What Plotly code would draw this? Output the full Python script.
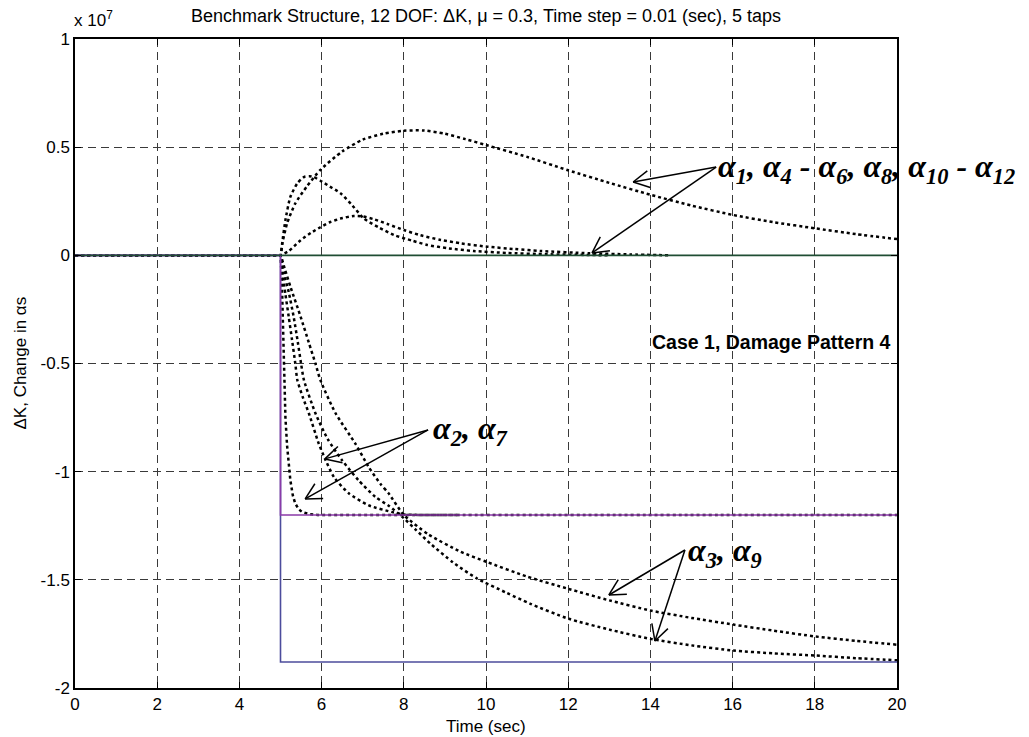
import math
import plotly.graph_objects as go

# Values are in units of 1e7 (the axis carries a "x 10^7" multiplier)
time_ticks = [0, 2, 4, 6, 8, 10, 12, 14, 16, 18, 20]
dk_ticks = [-2, -1.5, -1, -0.5, 0, 0.5, 1]
dk_tick_text = ["-2", "-1.5", "-1", "-0.5", "0", "0.5", "1"]

# True (target) changes in the alphas
true_t = [0, 5, 5, 20]
true_zero = [0, 0, 0, 0]            # alpha1, alpha4-6, alpha8, alpha10-12
true_a2_a7 = [0, 0, -1.2, -1.2]     # alpha2, alpha7
true_a3_a9 = [0, 0, -1.88, -1.88]   # alpha3, alpha9

# Estimated alphas that should stay at zero
est1_t = [0, 4.98, 5.0, 5.05, 5.16, 5.36, 5.64, 5.97, 6.5, 7.0, 7.5, 8.0, 8.5, 9.0, 9.5,
          10.0, 11.0, 12.0, 13.0, 14.0, 15.0, 16.0, 17.0, 18.0, 19.0, 20.0]
est1_v = [0, 0, 0, 0.06, 0.148, 0.24, 0.318, 0.395, 0.48, 0.535, 0.562, 0.576, 0.577,
          0.562, 0.537, 0.51, 0.455, 0.393, 0.335, 0.28, 0.23, 0.187, 0.153, 0.125,
          0.098, 0.075]

est2_t = [0, 4.98, 5.0, 5.04, 5.12, 5.24, 5.41, 5.57, 5.7, 5.81, 5.97, 6.2, 6.46, 6.75,
          7.03, 7.4, 7.76, 8.2, 8.57, 9.1, 9.7, 10.5, 11.5, 13.0]
est2_v = [0, 0, 0, 0.055, 0.163, 0.27, 0.333, 0.362, 0.366, 0.362, 0.345, 0.318, 0.287,
          0.23, 0.17, 0.128, 0.094, 0.068, 0.048, 0.032, 0.02, 0.011, 0.005, 0.0]

est3_t = [0, 4.98, 5.0, 5.2, 5.49, 5.75, 5.97, 6.2, 6.46, 6.78, 7.0, 7.27, 7.6, 8.0, 8.4,
          8.9, 9.4, 10.03, 10.7, 11.33, 12.5, 13.5, 14.5]
est3_v = [0, 0, 0, 0.02, 0.07, 0.105, 0.13, 0.153, 0.17, 0.182, 0.18, 0.167, 0.145,
          0.117, 0.093, 0.071, 0.055, 0.04, 0.029, 0.02, 0.01, 0.004, 0]

# Estimated alpha2 / alpha7
est4_t = [0, 5.0, 5.03, 5.06, 5.08, 5.12, 5.16, 5.2, 5.24, 5.3, 5.36, 5.45, 5.53, 5.7,
          5.9, 7.0, 9.3]
est4_v = [0, 0, -0.1, -0.3, -0.55, -0.75, -0.88, -0.97, -1.04, -1.11, -1.148, -1.175,
          -1.187, -1.196, -1.2, -1.2, -1.2]

est5_t = [0, 4.98, 5.0, 5.05, 5.12, 5.2, 5.28, 5.36, 5.41, 5.55, 5.69, 5.93, 6.1, 6.3,
          6.66, 7.15, 7.72, 8.0, 9.0, 20.0]
est5_v = [0, 0, 0, -0.08, -0.18, -0.284, -0.39, -0.5, -0.577, -0.66, -0.73, -0.87,
          -0.948, -1.025, -1.10, -1.156, -1.187, -1.198, -1.2, -1.2]

# Estimated alpha3 / alpha9
est6_t = [0, 4.98, 5.0, 5.08, 5.2, 5.32, 5.42, 5.5, 5.57, 5.85, 6.15, 6.5, 6.9, 7.31,
          7.65, 8.0, 8.3, 8.65, 9.2, 9.79, 10.5, 11.08, 12.01, 13.0, 14.0, 15.0, 16.02,
          17.0, 18.02, 19.0, 20.0]
est6_v = [0, 0, 0, -0.08, -0.17, -0.284, -0.4, -0.5, -0.577, -0.73, -0.85, -0.948,
          -1.04, -1.117, -1.16, -1.215, -1.27, -1.333, -1.42, -1.495, -1.56, -1.611,
          -1.68, -1.73, -1.773, -1.803, -1.827, -1.84, -1.85, -1.862, -1.872]

est7_t = [0, 4.98, 5.0, 5.1, 5.25, 5.49, 5.7, 5.85, 5.97, 6.34, 6.82, 7.15, 7.43, 7.63,
          8.0, 8.6, 9.38, 10.03, 11.0, 12.01, 13.0, 14.0, 15.0, 16.02, 17.0, 18.02, 19.0,
          20.0]
est7_v = [0, 0, 0, -0.06, -0.15, -0.284, -0.41, -0.5, -0.577, -0.73, -0.87, -0.98,
          -1.056, -1.10, -1.2, -1.29, -1.37, -1.418, -1.485, -1.542, -1.595, -1.642,
          -1.676, -1.707, -1.735, -1.762, -1.782, -1.80]

GREEN = "#1f4d33"
PURPLE = "#8a3aa8"
BLUE = "#4c4c9c"
FONT = "Arial, Liberation Sans, sans-serif"
SERIF = "Times New Roman, Liberation Serif, serif"

W, H = 1029, 737
ML, MR, MT, MB = 75, 132, 39, 49
X_RANGE = [0, 20]
Y_RANGE = [-2, 1]
XS = (W - ML - MR) / (X_RANGE[1] - X_RANGE[0])   # px per second
YS = (H - MT - MB) / (Y_RANGE[1] - Y_RANGE[0])   # px per 1e7

fig = go.Figure()

estimates = [(est1_t, est1_v, "spline"), (est2_t, est2_v, "spline"),
             (est3_t, est3_v, "spline"), (est4_t, est4_v, "linear"),
             (est5_t, est5_v, "spline"), (est6_t, est6_v, "spline"),
             (est7_t, est7_v, "spline")]
for tt, vv, shape in estimates:
    line = dict(color="black", width=2.5, dash="dot", shape=shape)
    if shape == "spline":
        line["smoothing"] = 0.6
    fig.add_trace(go.Scatter(x=tt, y=vv, mode="lines", line=line,
                             showlegend=False, hoverinfo="skip"))

for vals, col in [(true_a3_a9, BLUE), (true_a2_a7, PURPLE), (true_zero, GREEN)]:
    fig.add_trace(go.Scatter(x=true_t, y=vals, mode="lines",
                             line=dict(color=col, width=1.6),
                             showlegend=False, hoverinfo="skip"))

# Open "V" arrows from the labels to the curves
shapes = []
ARM = 18
HALF = math.radians(28)


def arrow(tail, head):
    x0, y0 = tail
    x1, y1 = head
    shapes.append(dict(type="line", xref="x", yref="y", x0=x0, y0=y0, x1=x1, y1=y1,
                       line=dict(color="black", width=1.5)))
    ang = math.atan2((y0 - y1) * YS, (x0 - x1) * XS)
    for s in (1, -1):
        a = ang + s * HALF
        shapes.append(dict(type="line", xref="x", yref="y", x0=x1, y0=y1,
                           x1=x1 + ARM * math.cos(a) / XS,
                           y1=y1 + ARM * math.sin(a) / YS,
                           line=dict(color="black", width=1.5)))


arrow((15.60, 0.408), (13.58, 0.339))
arrow((15.60, 0.408), (12.58, 0.011))
arrow((8.59, -0.807), (6.08, -0.941))
arrow((8.59, -0.807), (5.60, -1.126))
arrow((14.84, -1.362), (12.99, -1.570))
arrow((14.84, -1.362), (14.11, -1.783))

label_font = dict(family=SERIF, size=32, color="black")
annotations = [
    dict(x=15.60, y=0.40, xref="x", yref="y", xanchor="left", yanchor="middle",
         showarrow=False, font=label_font,
         text="<b><i>α<sub>1</sub>, α<sub>4</sub> - α<sub>6</sub>, α<sub>8</sub>, "
              "α<sub>10</sub> - α<sub>12</sub></i></b>"),
    dict(x=8.66, y=-0.81, xref="x", yref="y", xanchor="left", yanchor="middle",
         showarrow=False, font=label_font,
         text="<b><i>α<sub>2</sub>, α<sub>7</sub></i></b>"),
    dict(x=14.86, y=-1.375, xref="x", yref="y", xanchor="left", yanchor="middle",
         showarrow=False, font=label_font,
         text="<b><i>α<sub>3</sub>, α<sub>9</sub></i></b>"),
    dict(x=14.0, y=-0.40, xref="x", yref="y", xanchor="left", yanchor="middle",
         showarrow=False, font=dict(family=FONT, size=19.5, color="black"),
         text="<b>Case 1, Damage Pattern 4</b>"),
    dict(x=0, y=1, xref="paper", yref="paper", xanchor="left", yanchor="middle",
         xshift=-3, yshift=20, showarrow=False,
         font=dict(family=FONT, size=17, color="black"), text="x 10<sup>7</sup>"),
    dict(x=0, y=0.5, xref="paper", yref="paper", xanchor="center", yanchor="middle",
         xshift=-55, showarrow=False, textangle=-90,
         font=dict(family=FONT, size=17, color="black"), text="ΔK, Change in αs"),
    dict(x=0.5, y=0, xref="paper", yref="paper", xanchor="center", yanchor="middle",
         yshift=-38, showarrow=False,
         font=dict(family=FONT, size=17, color="black"), text="Time (sec)"),
]

axis_common = dict(showline=True, linecolor="black", linewidth=1.5, mirror="ticks",
                   ticks="inside", ticklen=6, tickcolor="black", tickwidth=1,
                   showgrid=True, gridcolor="#3a3a3a", gridwidth=1, griddash="8px,5px",
                   zeroline=False, automargin=False,
                   tickfont=dict(family=FONT, size=17, color="black"))

fig.update_layout(
    width=W, height=H,
    margin=dict(l=ML, r=MR, t=MT, b=MB),
    paper_bgcolor="white", plot_bgcolor="white",
    title=dict(text="Benchmark Structure, 12 DOF: ΔK, μ = 0.3, Time step = 0.01 (sec), 5 taps",
               x=0.5, xref="paper", xanchor="center",
               y=1 - 16 / H, yref="container", yanchor="middle",
               font=dict(family=FONT, size=18, color="black")),
    xaxis=dict(range=X_RANGE, tickvals=time_ticks, **axis_common),
    yaxis=dict(range=Y_RANGE, tickvals=dk_ticks, ticktext=dk_tick_text, **axis_common),
    shapes=shapes,
    annotations=annotations,
    showlegend=False,
)

fig.write_html("out.html")
